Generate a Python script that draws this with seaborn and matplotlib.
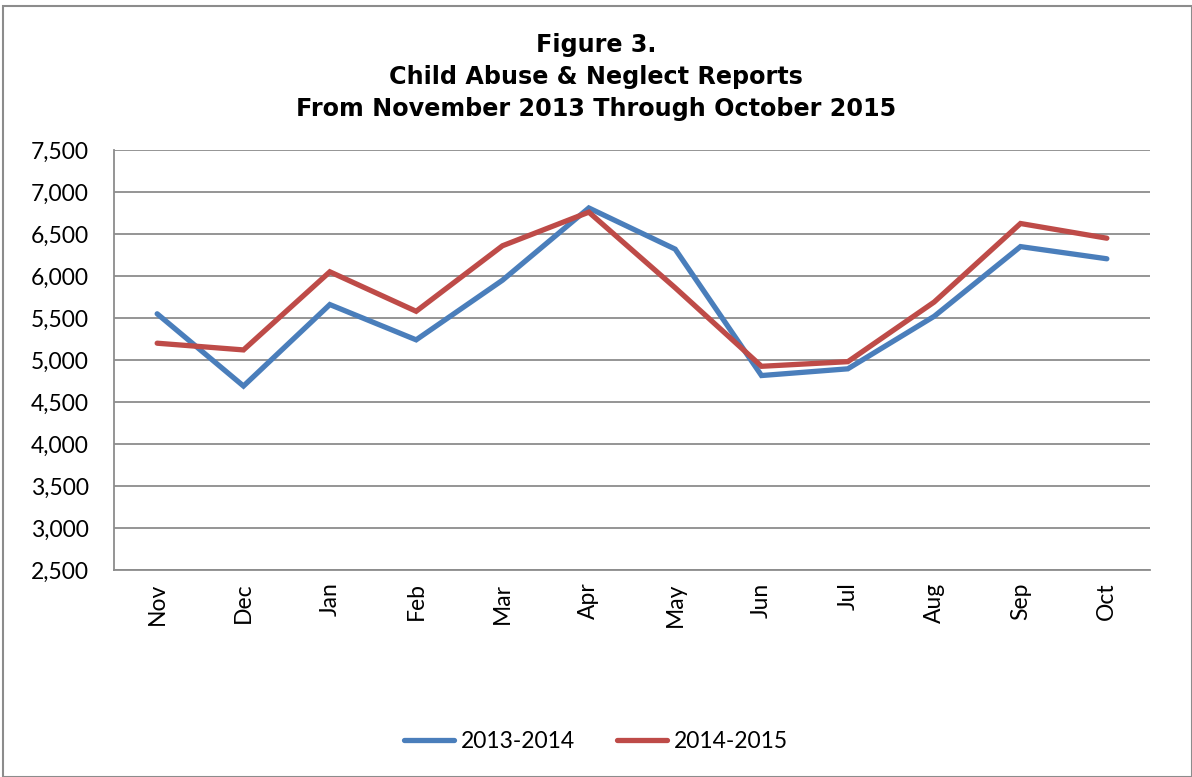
import numpy as np
import pandas as pd
import matplotlib
matplotlib.use("Agg")
import matplotlib.pyplot as plt
import seaborn as sns
from matplotlib.patches import Rectangle

MONTHS = ["Nov", "Dec", "Jan", "Feb", "Mar", "Apr", "May", "Jun", "Jul", "Aug", "Sep", "Oct"]
S1314 = [5550, 4690, 5660, 5240, 5950, 6810, 6320, 4815, 4895, 5520, 6350, 6205]
S1415 = [5200, 5120, 6050, 5580, 6360, 6760, 5860, 4925, 4980, 5690, 6625, 6450]
SERIES = ["2013-2014", "2014-2015"]
YTICKS = [2500, 3000, 3500, 4000, 4500, 5000, 5500, 6000, 6500, 7000, 7500]

df = pd.DataFrame({
    "Month": MONTHS * 2,
    "Reports": S1314 + S1415,
    "Season": [SERIES[0]] * 12 + [SERIES[1]] * 12,
})
df["pos"] = df["Month"].map({m: i for i, m in enumerate(MONTHS)})

sns.set_theme(style="white")
plt.rcParams["font.family"] = ["Lato", "DejaVu Sans"]
plt.rcParams["text.color"] = "black"
plt.rcParams["xtick.color"] = "black"
plt.rcParams["ytick.color"] = "black"

fig = plt.figure(figsize=(11.92, 7.77), dpi=100)
ax = fig.add_axes([114 / 1192, 1 - 570 / 777, 1036 / 1192, 420 / 777])

sns.lineplot(data=df, x="pos", y="Reports", hue="Season",
             palette=["#4A7EBB", "#BE4B48"], linewidth=3.8, ax=ax,
             legend=False)
for l in ax.lines:
    l.set_solid_capstyle("round")
    l.set_solid_joinstyle("miter")

ax.set_xlim(-0.5, 11.5)
ax.set_ylim(2500, 7500)
ax.set_yticks(YTICKS)
ax.set_yticklabels([f"{v:,}" for v in YTICKS], fontsize=16.5, color="black")
ax.set_xticks(range(len(MONTHS)))
ax.set_xticklabels(MONTHS, rotation=90, fontsize=16.5, color="black")
ax.tick_params(axis="x", length=0, pad=9)
ax.tick_params(axis="y", length=0, pad=18)
ax.set_xlabel("")
ax.set_ylabel("")
ax.grid(axis="y", color="#8C8C8C", linewidth=1.3)
ax.grid(axis="x", visible=False)
ax.set_axisbelow(True)
for side in ["top", "right"]:
    ax.spines[side].set_visible(False)
for side in ["left", "bottom"]:
    ax.spines[side].set_color("#8C8C8C")
    ax.spines[side].set_linewidth(1.3)

fig.text(0.5, 1 - 77 / 777, "Figure 3.\nChild Abuse & Neglect Reports\nFrom November 2013 Through October 2015",
         ha="center", va="center", fontsize=17.2, fontweight="bold",
         family="DejaVu Sans", linespacing=1.42, color="black")

handles = [plt.Line2D([], [], color=c, linewidth=3.8, solid_capstyle="round")
           for c in ["#4A7EBB", "#BE4B48"]]
fig.legend(handles, SERIES, loc="center", bbox_to_anchor=(0.5, 1 - 742 / 777),
           ncol=2, frameon=False, fontsize=16.5, handlelength=2.2,
           handletextpad=0.3, columnspacing=1.8)

fig.patches.append(Rectangle((3 / 1192, 0), 1 - 3 / 1192, 1 - 6 / 777,
                             transform=fig.transFigure, fill=False,
                             edgecolor="#8C8C8C", linewidth=1.5))

fig.savefig("out.png", dpi=100)
